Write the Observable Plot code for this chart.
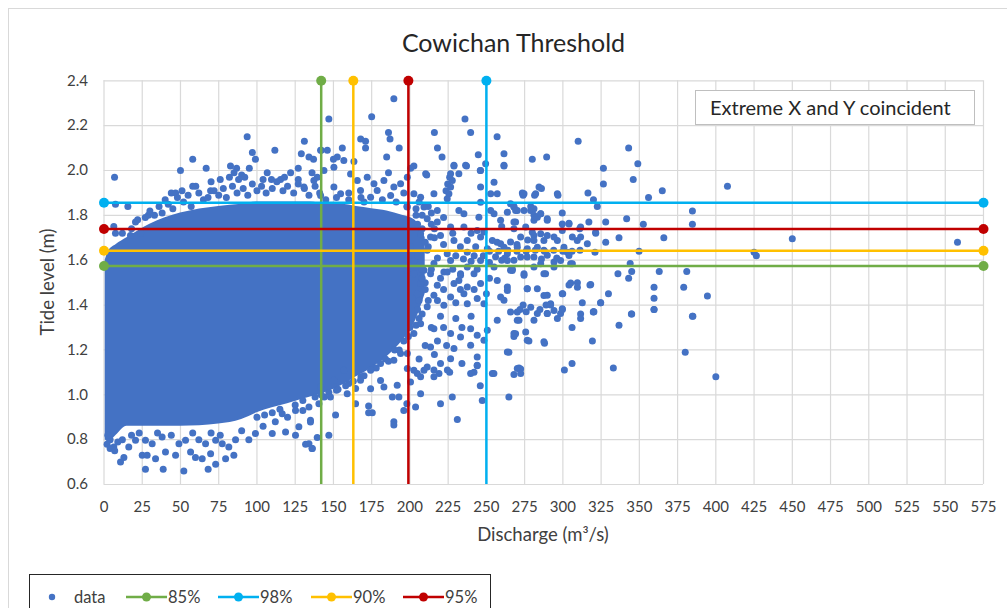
<!DOCTYPE html>
<html>
<head>
<meta charset="utf-8">
<script src="https://cdn.jsdelivr.net/npm/d3@7"></script>
<script src="https://cdn.jsdelivr.net/npm/@observablehq/plot@0.6"></script>
<style>
html,body{margin:0;padding:0;background:#fff;overflow:hidden;width:1007px;height:608px;}
#wrap{position:relative;width:1007px;height:608px;font-family:Lato,"Open Sans",sans-serif;color:#404040;overflow:hidden;}
#frame{position:absolute;left:8px;top:8px;width:1030px;height:640px;border:1px solid #d9d9d9;box-sizing:border-box;}
#chart{position:absolute;left:0;top:0;}
#title{position:absolute;left:0;top:27px;width:1027px;text-align:center;font-size:25px;line-height:30px;color:#262626;}
#note{position:absolute;left:695px;top:90px;width:280px;height:35px;box-sizing:border-box;border:1px solid #bfbfbf;background:#fff;font-size:20px;line-height:33px;padding-left:14px;color:#262626;white-space:nowrap;}
#xlabel{position:absolute;left:343px;width:400px;top:523px;text-align:center;font-size:18.5px;line-height:22px;color:#404040;}
#ylabel{position:absolute;left:-153px;width:400px;top:271px;text-align:center;font-size:18.5px;line-height:22px;color:#404040;transform:rotate(-90deg);}
#legend{position:absolute;left:29px;top:574px;width:462px;height:50px;box-sizing:border-box;border:1px solid #262626;background:#fff;}
.li{position:absolute;top:11px;height:22px;font-size:16.5px;line-height:22px;color:#404040;}
.li svg{position:absolute;left:0;top:0;}
</style>
</head>
<body>
<div id="wrap">
  <div id="frame"></div>
  <div id="chart"></div>
  <div id="title"></div>
  <div id="note"></div>
  <div id="xlabel"></div>
  <div id="ylabel"></div>
  <div id="legend"></div>
</div>
<script>
// ---------- text ----------
const chartTitle = "Cowichan Threshold";
const noteText = "Extreme X and Y coincident";
const xAxisTitle = "Discharge (m³/s)";
const yAxisTitle = "Tide level (m)";
const dataLabel = "data";

// ---------- axes ----------
const xTicks = [0,25,50,75,100,125,150,175,200,225,250,275,300,325,350,375,400,425,450,475,500,525,550,575];
const yTicks = [0.6,0.8,1.0,1.2,1.4,1.6,1.8,2.0,2.2,2.4];

// ---------- threshold series ----------
const thresholdLabels = ["85%","98%","90%","95%"];
const thresholdDischarge = [142, 250, 163, 199];
const thresholdTide = [1.574, 1.856, 1.642, 1.739];
const thresholdColors = ["#70AD47","#00B0F0","#FFC000","#C00000"];

// ---------- dense core of the data cloud (discharge, lower and upper tide edge) ----------
const coreDischarge = [0.8, 3, 8, 15, 30, 50, 75, 90, 100, 120, 135, 145, 155, 165, 175, 185, 195, 203, 210];
const coreTideLow   = [0.80,0.79,0.82,0.86,0.86,0.86,0.87,0.89,0.92,0.96,0.99,1.01,1.04,1.08,1.12,1.17,1.24,1.32,1.45];
const coreTideHigh  = [1.60,1.64,1.67,1.70,1.76,1.81,1.84,1.85,1.86,1.86,1.86,1.85,1.85,1.84,1.83,1.82,1.80,1.78,1.70];

// ---------- individual data points [discharge, tide] ----------
const dataPoints = [
[6.9,1.97],[93.6,2.15],[111.7,2.09],[131,2.13],[97,2.08],[99,2.05],[58,2.05],[50,2.00],[66.8,2.01],[82.7,2.02],[86.7,2.01],[95,2.01],[127,2.01],[129,2.075],[134,2.06],[137,2.05],[142,2.09],[60,1.93],[46.8,1.90],[51,1.91],[69.7,1.91],[82,1.97],[90,1.98],[88,1.96],[106.7,1.99],[109.5,1.96],[115.4,1.96],[127,1.96],[139.4,1.97],[40,1.87],[29,1.80],[38,1.81],[7.5,1.85],[15.6,1.84],[6.4,1.75],[7.5,1.72],[17.3,1.71],[20.6,1.77],[24,1.72],
[12,1.72],[18,1.74],[22,1.78],[27,1.79],[30,1.82],[33,1.80],[36,1.84],[42,1.85],[45,1.83],[48,1.88],[52,1.86],[55,1.89],[57,1.84],[62,1.90],[65,1.87],[68,1.88],[72,1.91],[75,1.89],[78,1.92],[80,1.88],[84,1.93],[87,1.90],[91,1.92],[94,1.89],[97,1.94],[100,1.91],[103,1.93],[106,1.90],[110,1.92],[113,1.95],[117,1.91],[120,1.93],[124,1.90],[127,1.94],[131,1.92],[134,1.89],[138,1.93],[141,1.90],[44,1.90],[58,1.93],[70,1.95],[76,1.96],[92,1.97],[104,1.96],[118,1.97],[136,1.99],[122,1.99],[85,1.99],
[189.5,2.32],[147,2.23],[175,2.24],[236,2.23],[216,2.17],[239.7,2.17],[257,2.15],[186,2.17],[187,2.14],[167.8,2.14],[171,2.13],[171,2.10],[193,2.10],[218,2.10],[221,2.06],[244.7,2.07],[261.5,2.075],[261.5,2.02],[141.6,2.09],[146,2.09],[150,2.05],[152.5,2.06],[155.8,2.10],[184.8,2.06],[186,1.99],[202.6,2.02],[200.5,2.01],[211,1.98],[228.8,2.02],[237,2.02],[246,2.00],[249.5,2.03],[226,1.97],[224.7,1.94],[223.6,1.91],[163.4,2.04],[273.5,1.90],[268,1.84],[279,1.84],[260,1.75],[268,1.74],[257,1.68],[270,1.67],[277,1.69],[260,1.60],[268,1.60],[267,1.56],
[143.8,2.0],[150.3,2.015],[156.8,2.045],[161.2,1.985],[165.6,1.956],[172.1,1.97],[176.5,1.941],[183,1.956],[189.5,1.926],[193.9,1.941],[198.3,1.97],[137.2,1.956],[130.7,1.926],[150.3,1.926],[167.7,1.911],[178.6,1.911],[187.4,1.889],[154.7,1.896],[141.6,1.889],[174.3,1.881],
[145,1.87],[152,1.88],[160,1.87],[168,1.88],[182,1.87],[191,1.86],[198,1.84],[204,1.83],[160,1.90],[170,1.86],[196,1.90],[206,1.86],[212,1.84],[208,1.74],[212,1.66],[206,1.60],[210,1.50],[212,1.42],[206,1.34],[200,1.30],[196,1.24],[190,1.20],[184,1.16],[176,1.12],[168,1.08],[160,1.05],[152,1.02],[144,0.99],
[100,0.90],[105,0.91],[110,0.92],[115,0.935],[125,0.955],[130,0.975],[138,0.99],[142,1.00],[147,1.01],[153,1.025],[158,1.04],[163,1.06],[170,1.085],[178,1.12],[186,1.15],[193,1.20],[199,1.26],[204,1.31],[214,1.56],[216,1.70],[214,1.76],[208,1.80],
[310,2.13],[343,2.10],[349,2.03],[280,2.05],[289.4,2.06],[326.5,2.01],[326.5,1.94],[346,1.96],[365,1.91],[356,1.88],[384.7,1.82],[384.7,1.76],[286,1.92],[296.8,1.89],[274,1.89],[281.5,1.89],[316.4,1.90],[320,1.87],[322.5,1.84],[341.7,1.785],[352.6,1.76],[366,1.70],[336.7,1.70],[328,1.77],[328,1.68],[317,1.77],[311,1.74],[321.5,1.72],[349.8,1.64],[344,1.585],[345,1.55],[343,1.52],[336,1.54],[363,1.55],[381,1.55],[379,1.48],[359.6,1.48],[359.6,1.43],[359.6,1.38],[384.7,1.35],[344.8,1.36],[336.7,1.31],[324.7,1.41],[329.8,1.45],[317.7,1.49],[309.5,1.50],[309.5,1.48],[304,1.49],[299.9,1.45],[312.7,1.41],[320,1.37],[311.6,1.36],[311.6,1.34],[306,1.30],[319.3,1.24],[380,1.19],[333,1.12],[306,1.14],[301,1.11],[288,1.23],[277.8,1.24],[275.7,1.28],[268,1.26],[264.7,1.19],[271.3,1.12],[268,1.09],[264.7,0.99],
[407.6,1.93],[450,1.696],[558,1.68],[425,1.636],[426.5,1.62],[394.5,1.44],[385,1.35],[400,1.08],
[135,0.886],[131.8,0.78],[136,0.76],[147,0.82],[139.4,0.81],[151.4,0.91],[164.5,0.96],[173,0.95],[175.4,0.92],[173,0.92],[189.5,0.88],[189.5,0.865],[198,0.96],[203.7,0.945],[196,0.93],[220,0.96],[231,0.89],[227.7,0.99],[247.3,0.975],[207,1.005],[219,1.095],[224.5,1.11],[215.7,1.11],[246,1.04],[241.9,1.10],[244,1.13],[253.9,1.095],[272.4,1.115],[174.3,1.027],[183,1.035],[188.5,0.99],[192.8,0.99],[180.8,1.064],
[167.7,1.065],[164.5,1.028],[174.3,1.109],[191.7,1.042],[200.4,1.057],[204.8,1.095],[198.3,1.117],[209.2,1.109],[180.8,1.139],[189.5,1.154],[193.9,1.184],[156.8,1.109],[150.3,1.065],[141.6,1.035],[159,1.005],[148,0.99],
[10.8,0.70],[13,0.72],[25,0.73],[28.2,0.73],[27.1,0.668],[38.7,0.668],[52.2,0.66],[68.1,0.668],[73,0.69],[33.7,0.715],[40.2,0.745],[46.8,0.73],[56.6,0.745],[59.8,0.72],[64.2,0.715],[69.7,0.737],[79.5,0.715],[84.9,0.73],[81.6,0.767],[77.3,0.782],[94.7,0.80],[99,0.827],[110,0.827],[118.7,0.834],[125.2,0.82],[134,0.782],[136.2,0.76],[135,0.879],[127.4,0.857],[6.4,0.767],[16.2,0.767],[20.6,0.797],[27.1,0.797],[31.5,0.782],[38,0.812],[49,0.782],[53.3,0.797],[66.4,0.782],[73,0.797],[116.5,0.916],[125.2,0.93],[134,0.945],[140.5,0.96],
[4,0.80],[9,0.79],[12,0.80],[18,0.82],[23,0.83],[35,0.83],[44,0.82],[58,0.83],[62,0.80],[70,0.83],[76,0.82],[86,0.80],[90,0.84],[104,0.86],[112,0.88],[120,0.90],[130,0.93],
[2,0.78],[4,0.76],[7,0.75],[2.5,0.82],
[210.3,1.986],[228.8,2.023],[236.4,2.023],[246.2,2.0],[261.5,2.023],[226.6,1.986],[227.7,1.956],[226.6,1.926],[225.5,1.896],[224.4,1.874],[232,1.986],[246.2,1.926],[252.8,1.896],[257.1,1.896],[255,1.948],[274.6,1.896],[282.2,1.896],[296.4,1.896],[284.4,1.926],[202.6,1.896],[207,1.881],[215.7,1.896],[198.3,1.837],[209.2,1.837],[217.9,1.822],[232,1.822],[235.3,1.807],[246.2,1.859],[245.1,1.792],[265.8,1.852],[270.2,1.822],[278.9,1.822],[285.5,1.807],[289.8,1.778],[281.1,1.778],[259.3,1.778],[269.1,1.77],[252.8,1.822],[255,1.807],[211.3,1.785],[217.9,1.77],[226.6,1.748],[235.3,1.748],[244,1.733],[248.4,1.726],[207,1.718],[213.5,1.703],[220,1.71],[228.8,1.688],[237.5,1.688],[246.2,1.703],[253.9,1.688],[259.3,1.674],[265.8,1.681],[272.4,1.703],[281.1,1.71],[289.8,1.71],[296.4,1.688],[200.4,1.659],[211.3,1.644],[224.4,1.629],[237.5,1.636],[250.6,1.651],[263.7,1.629],[276.7,1.614],[289.8,1.622],[202.6,1.599],[215.7,1.585],[226.6,1.599],[237.5,1.57],[246.2,1.599],[255,1.57],[265.8,1.555],[281.1,1.57],[294.2,1.57],[198.3,1.555],[209.2,1.555],[222.2,1.547],[233.1,1.54],
[205,1.62],[218,1.61],[230,1.62],[242,1.62],[210,1.68],[222,1.67],[233,1.66],[243,1.66],[205,1.76],[216,1.74],[228,1.72],[240,1.72],[204,1.80],[214,1.81],[222,1.79],[208,1.56],[228,1.56],[244,1.56],
[252,1.64],[258,1.64],[264,1.645],[270,1.64],[276,1.64],[282,1.645],[288,1.64],[294,1.645],[300,1.64],[306,1.64],[248,1.62],[256,1.615],[262,1.61],[286,1.605],[296,1.61],[235,1.605],[240,1.595],[252,1.59],
[202.6,1.54],[213.5,1.54],[224.4,1.548],[233.1,1.533],[241.9,1.54],[207,1.496],[217.9,1.488],[228.8,1.496],[237.5,1.481],[246.2,1.496],[204.8,1.451],[215.7,1.444],[226.6,1.436],[235.3,1.451],[244,1.429],[211.3,1.392],[222.2,1.399],[237.5,1.406],[248.4,1.406],[257.1,1.51],[263.7,1.481],[274.6,1.533],[288.7,1.54],[276.7,1.473],[289.8,1.444],[259.3,1.436],[265.8,1.369],[270.2,1.332],[283.3,1.362],[281.1,1.332],[289.8,1.362],[296.4,1.34],[257.1,1.332],[250.6,1.288],[239.7,1.295],[244,1.265],[233.1,1.258],[226.6,1.273],[215.7,1.295],[207,1.317],[202.6,1.273],[213.5,1.213],[228.8,1.206],[239.7,1.221],[248.4,1.243],[263.7,1.191],[276.7,1.243],[287.6,1.236],[268,1.273],[244,1.169],[244,1.132],[254.9,1.095],[270.2,1.117],[272.4,1.095],[239.7,1.095],[226.6,1.161],[220,1.139],[211.3,1.124],[215.7,1.08],[207,1.08],[202.6,1.109],[198.3,1.184],
[208,1.52],[220,1.52],[232,1.51],[210,1.47],[222,1.47],[233,1.47],[242,1.47],[206,1.42],[218,1.42],[230,1.41],[208,1.36],[220,1.35],[230,1.34],[240,1.35],[205,1.38],[250,1.45],[252,1.52],
[214,1.30],[222,1.30],[218,1.24],[210,1.22],[224,1.22],[234,1.30],[216,1.18],[206,1.16],[226,1.10],[234,1.14],
[268,1.837],[269.1,1.822],[274.6,1.822],[281.1,1.829],[281.1,1.8],[283.3,1.792],[285.5,1.807],[289.8,1.785],[263.7,1.814],[268,1.77],[275.7,1.748],[280,1.725],[285.5,1.718],[281.1,1.688],[287.6,1.688],[294.2,1.703],[299.6,1.762],[299.6,1.733],[304,1.762],[261.5,1.658],[270.2,1.658],[276.7,1.651],[283.3,1.658],[287.6,1.644],[300.7,1.658],[302.9,1.636],[309.4,1.688],[311.6,1.703],[263.7,1.599],[272.4,1.614],[281.1,1.614],[285.5,1.584],[294.2,1.592],[298.5,1.599],[305.1,1.584],[266.9,1.554],[274.6,1.54],[287.6,1.54],[283.3,1.473],[276.7,1.473],[263.7,1.465],[261.5,1.421],[270.2,1.369],[271.3,1.332],[289.8,1.362],[294.2,1.376],[298.5,1.362],[299.6,1.384],[292,1.406],[287.6,1.443],[299.6,1.45],[305.1,1.498],[318.2,1.492],[319.9,1.369],[269.1,1.272],[299.6,1.81],[304,1.765],[311.6,1.748],[306.2,1.703],[316,1.673],[321.4,1.725],[311.2,1.644],[304,1.621],[306.2,1.584],[321,1.636],
[292,1.40],[299.7,1.38],[324.7,1.41],[320.3,1.37],[345,1.36],[359.6,1.38],[272,1.38],[276,1.37],[279,1.39],[285,1.38],[289,1.40],[274,1.40]
];

// ---------- build ----------
const blue = "#4472C4";
const xMin = xTicks[0], xMax = xTicks[xTicks.length-1];
const yMin = yTicks[0], yMax = yTicks[yTicks.length-1];
const core = coreDischarge.map((x,i)=>({x, low: coreTideLow[i], high: coreTideHigh[i]}));

const marks = [
  Plot.gridX(xTicks, {stroke:"#d9d9d9", strokeOpacity:1, strokeWidth:1.2}),
  Plot.gridY(yTicks, {stroke:"#d9d9d9", strokeOpacity:1, strokeWidth:1.2}),
  Plot.axisX(xTicks, {tickSize:0, tickPadding:17, tickFormat:d=>String(d), label:null, fontSize:15, fill:"#404040"}),
  Plot.axisY(yTicks, {tickSize:0, tickPadding:16, tickFormat:d=>d.toFixed(1), label:null, fontSize:15, fill:"#404040"}),
  Plot.areaY(core, {x:"x", y1:"low", y2:"high", fill:blue, curve:"monotone-x"}),
  Plot.dot(dataPoints, {x:d=>d[0], y:d=>d[1], r:3.5, fill:blue, stroke:null})
];
thresholdLabels.forEach((lab,i)=>{
  const c = thresholdColors[i];
  marks.push(Plot.ruleX([thresholdDischarge[i]], {y1:yMin, y2:yMax, stroke:c, strokeWidth:2.5}));
  marks.push(Plot.ruleY([thresholdTide[i]], {x1:xMin, x2:xMax, stroke:c, strokeWidth:2.5}));
  marks.push(Plot.dot([[thresholdDischarge[i], yMax],[xMin, thresholdTide[i]],[xMax, thresholdTide[i]]],
    {x:d=>d[0], y:d=>d[1], r:5, fill:c, stroke:null}));
});

const chart = Plot.plot({
  width:1007, height:608,
  marginLeft:103.5, marginRight:24, marginTop:80.3, marginBottom:124,
  style:{fontFamily:"Lato, 'Open Sans', sans-serif", fontSize:"15px", background:"transparent", color:"#404040", overflow:"visible"},
  x:{domain:[xMin,xMax], label:null},
  y:{domain:[yMin,yMax], label:null},
  marks
});
document.getElementById("chart").appendChild(chart);

document.getElementById("title").textContent = chartTitle;
document.getElementById("note").textContent = noteText;
document.getElementById("xlabel").textContent = xAxisTitle;
document.getElementById("ylabel").textContent = yAxisTitle;

// legend
const legend = document.getElementById("legend");
function addItem(left, width, svgInner, text, textLeft){
  const d = document.createElement("div");
  d.className = "li";
  d.style.left = left + "px";
  d.style.width = (textLeft + 40) + "px";
  d.innerHTML = `<svg width="${width}" height="22">${svgInner}</svg>`;
  const s = document.createElement("span");
  s.style.position = "absolute"; s.style.left = textLeft + "px"; s.style.top = "0";
  s.textContent = text;
  d.appendChild(s);
  legend.appendChild(d);
}
addItem(17, 10, `<circle cx="5" cy="11" r="3.2" fill="${blue}"/>`, dataLabel, 27);
const legendLefts = [96, 188, 281, 373];
thresholdLabels.forEach((lab,i)=>{
  const c = thresholdColors[i];
  addItem(legendLefts[i], 42, `<line x1="0" x2="41" y1="11" y2="11" stroke="${c}" stroke-width="2.5"/><circle cx="20.5" cy="11" r="4.5" fill="${c}"/>`, lab, 42);
});
</script>
</body>
</html>
